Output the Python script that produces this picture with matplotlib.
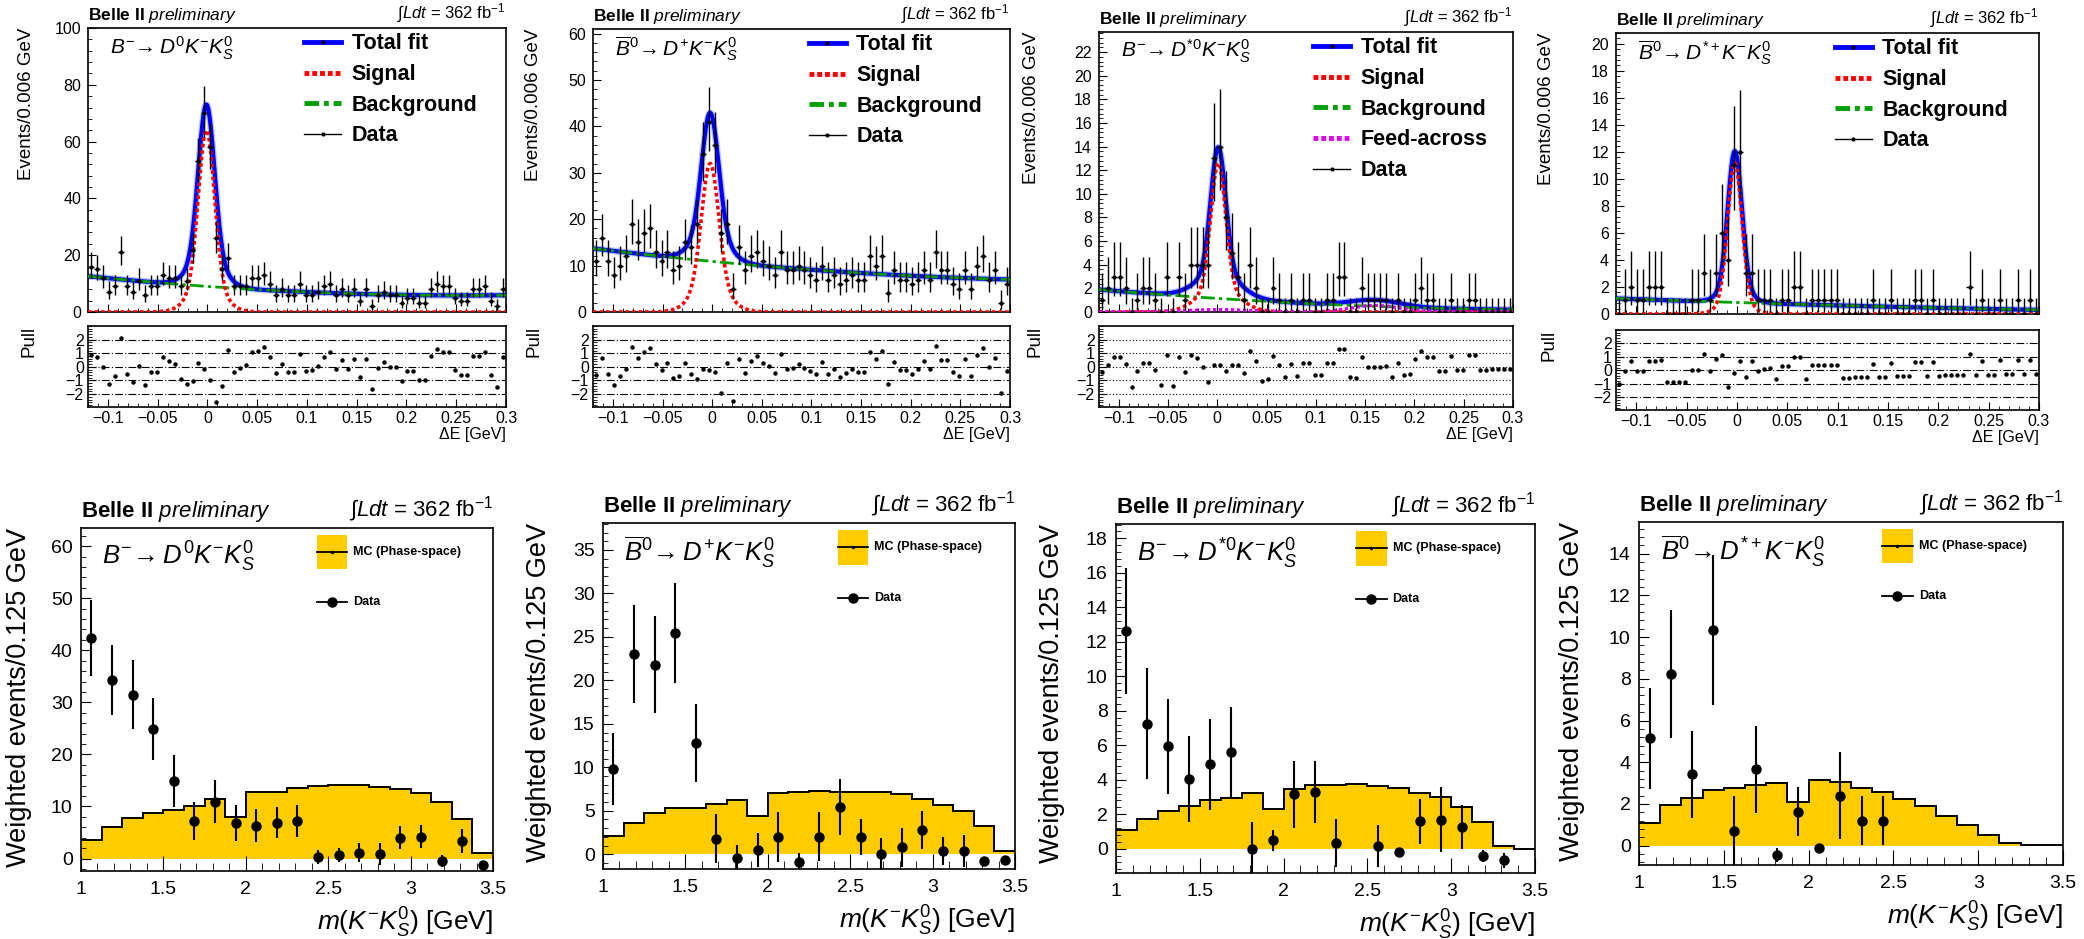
import numpy as np
import matplotlib.pyplot as plt
from matplotlib.lines import Line2D
from matplotlib.patches import Rectangle
from matplotlib.ticker import MultipleLocator, FixedLocator, FuncFormatter

plt.rcParams['font.family'] = ['Liberation Sans', 'DejaVu Sans']
plt.rcParams['mathtext.fontset'] = 'custom'
plt.rcParams['mathtext.rm'] = 'Liberation Sans'
plt.rcParams['mathtext.it'] = 'Liberation Sans:italic'
plt.rcParams['mathtext.bf'] = 'Liberation Sans:bold'
plt.rcParams['axes.linewidth'] = 1.2

# ---------------- top row: Delta E fits ----------------
de_lo, de_hi, de_binw = -0.12, 0.3, 0.006

counts_d0 = [16, 15, 12, 7, 9, 21, 9, 7, 11, 6,
             9, 9, 13, 12, 12, 9, 11, 22, 53, 70,
             58, 26, 15, 19, 9, 9, 9, 12, 12, 13,
             10, 6, 8, 6, 6, 10, 6, 6, 7, 9,
             10, 6, 8, 6, 8, 4, 8, 2, 6, 7,
             6, 6, 3, 5, 5, 3, 3, 8, 10, 9,
             9, 5, 4, 4, 8, 8, 9, 4, 2, 8]
counts_dp = [11, 16, 11, 8, 10, 12, 19, 15, 17, 18,
             13, 11, 13, 9, 10, 15, 14, 19, 34, 41,
             36, 17, 19, 5, 14, 9, 12, 13, 11, 10,
             8, 13, 9, 9, 10, 9, 8, 7, 10, 7,
             8, 6, 7, 8, 7, 7, 12, 10, 12, 4,
             9, 7, 7, 6, 7, 9, 7, 13, 9, 9,
             6, 5, 9, 5, 10, 12, 7, 9, 2, 6]
counts_dst0 = [1, 2, 3, 3, 2, 0, 1, 2, 2, 1,
               0, 3, 0, 3, 1, 4, 4, 4, 4, 13,
               14, 8, 5, 3, 1, 4, 2, 0, 0, 2,
               1, 0, 1, 0, 1, 1, 0, 0, 1, 1,
               3, 3, 0, 0, 2, 1, 1, 1, 1, 0,
               1, 0, 0, 1, 2, 1, 1, 0, 0, 1,
               0, 0, 1, 1, 0, 0, 0, 0, 0, 0]
counts_dstp = [0, 1, 2, 1, 1, 2, 2, 2, 0, 0,
               0, 0, 1, 1, 3, 1, 3, 6, 4, 11,
               12, 3, 3, 1, 1, 1, 0, 1, 1, 2,
               2, 0, 1, 1, 1, 1, 1, 0, 0, 0,
               0, 0, 1, 0, 0, 1, 0, 0, 0, 1,
               1, 0, 1, 0, 0, 0, 0, 0, 2, 0,
               1, 0, 0, 1, 0, 0, 1, 0, 1, 0]
de_counts = [counts_d0, counts_dp, counts_dst0, counts_dstp]

# fit components
sig_mean = [-0.001, -0.002, 0.001, -0.002]
sig_core_amp = [54, 26, 10.5, 10.2]
sig_core_width = [0.008, 0.0085, 0.0075, 0.007]
sig_tail_amp = [10, 6, 2.1, 1.0]
sig_tail_width = [0.016, 0.017, 0.02, 0.014]
bkg_at_left = [12.6, 13.7, 1.9, 1.15]
bkg_at_zero = [9.0, 10.9, 1.15, 0.85]
bkg_at_right = [5.9, 7.0, 0.2, 0.3]
feed_amp = [0, 0, 0.55, 0]
feed_mean = [0, 0, 0.16, 0]
feed_width = [1, 1, 0.025, 1]
feed_peak_amp = [0, 0, 0.2, 0]

de_ymax = [100, 61, 23.7, 20.8]
de_ymajor = [20, 10, 2, 2]
de_yminor = [4, 2, 0.4, 0.4]
pull_ticks = [-2, -1, 0, 1, 2]

decays = [r'$B^{-}\!\rightarrow D^{0}K^{-}K^{0}_{S}$',
          r'$\overline{B}^{0}\!\rightarrow D^{+}K^{-}K^{0}_{S}$',
          r'$B^{-}\!\rightarrow D^{*0}K^{-}K^{0}_{S}$',
          r'$\overline{B}^{0}\!\rightarrow D^{*+}K^{-}K^{0}_{S}$']

# ---------------- bottom row: m(K K_S) distributions ----------------
m_lo, m_hi, m_nbins = 1.0, 3.5, 20
nan = np.nan

mc_d0 = [3.5, 6.1, 7.7, 8.7, 9.4, 10.1, 11.4, 8.0, 12.8, 12.8,
         13.5, 14.0, 14.2, 14.2, 13.8, 13.3, 12.6, 10.9, 7.6, 1.0]
data_d0 = [42.4, 34.3, 31.5, 24.9, 14.9, 7.2, 10.9, 6.9, 6.3, 6.9,
           7.2, 0.2, 0.6, 1.1, 0.8, 4.0, 4.2, -0.45, 3.4, -1.2]
err_d0 = [7.35, 6.65, 6.55, 5.95, 5.0, 3.7, 4.1, 3.45, 3.2, 2.95,
          3.15, 1.35, 1.35, 1.85, 2.1, 2.25, 2.25, 1.1, 2.3, 0.3]

mc_dp = [2.1, 3.6, 4.7, 5.3, 5.3, 5.8, 6.2, 4.4, 7.0, 7.2,
         7.3, 7.1, 7.2, 7.2, 6.9, 6.3, 5.7, 5.0, 3.3, 0.4]
data_dp = [9.8, 23.0, 21.8, 25.4, 12.8, 1.8, -0.4, 0.5, 2.0, -0.9,
           2.0, 5.4, 2.0, 0.0, 0.8, 2.8, 0.4, 0.4, -0.8, -0.65]
err_dp = [4.1, 5.65, 5.6, 5.75, 4.45, 2.85, 1.5, 1.95, 2.9, 1.0,
          2.8, 3.2, 2.1, 1.9, 2.25, 2.2, 1.6, 1.85, 0.35, 0.2]

mc_dst0 = [1.1, 1.75, 2.2, 2.5, 2.85, 2.95, 3.25, 2.3, 3.45, 3.7,
           3.7, 3.77, 3.62, 3.52, 3.25, 3.0, 2.42, 1.55, 0.13, 0.0]
data_dst0 = [12.6, 7.26, 5.94, 4.06, 4.9, 5.6, 0.0, 0.48, 3.15, 3.29,
             0.33, nan, 0.15, -0.19, 1.59, 1.68, 1.26, -0.43, -0.68, nan]
err_dst0 = [3.65, 3.2, 2.75, 2.5, 2.65, 2.6, 1.55, 0.6, 1.95, 1.8,
            1.42, nan, 1.2, 0.2, 1.3, 1.9, 1.26, 0.35, 0.45, nan]

mc_dstp = [1.1, 1.95, 2.3, 2.67, 2.78, 2.9, 2.98, 2.08, 3.14, 3.03,
           2.78, 2.55, 2.23, 1.9, 1.42, 0.99, 0.51, 0.14, 0.03, 0.03]
data_dstp = [5.14, 8.22, 3.42, 10.36, 0.72, 3.66, -0.45, 1.63, -0.13, 2.39,
             1.2, 1.2, nan, nan, nan, nan, nan, nan, nan, nan]
err_dstp = [2.44, 3.07, 2.09, 3.6, 1.68, 2.09, 0.35, 1.16, 0.15, 2.08,
            1.19, 1.19, nan, nan, nan, nan, nan, nan, nan, nan]

mc_vals = [mc_d0, mc_dp, mc_dst0, mc_dstp]
m_data = [data_d0, data_dp, data_dst0, data_dstp]
m_err = [err_d0, err_dp, err_dst0, err_dstp]

m_ylim = [(-2.4, 63.5), (-1.7, 38.1), (-1.41, 18.83), (-0.93, 15.52)]
m_ymajor = [10, 5, 2, 2]
m_yminor = [2, 1, 0.4, 0.4]

# ---------------- layout (pixels in the 2084x939 canvas) ----------------
W, H = 2084, 939
top_main_px = [(88, 28, 506, 312), (593, 29, 1010, 312), (1099, 32, 1513, 312), (1616, 33, 2039, 314)]
top_pull_px = [(88, 326, 506, 407), (593, 326, 1010, 407), (1099, 326, 1513, 407), (1616, 330, 2039, 410)]
bot_px = [(81, 528, 493, 871), (603, 523, 1015, 869), (1116, 524, 1535, 873), (1639, 522, 2063, 865)]
top_ylab_x = [-0.127, -0.122, -0.143, -0.144]
pull_ylab_x = [-0.12, -0.12, -0.135, -0.138]
bot_ylab_x = [-0.119, -0.124, -0.122, -0.127]
bot_leg_x = [0.573, 0.570, 0.573, 0.573]

GOLD = '#ffcc00'


def box(l, t, r, b):
    return [l / W, 1 - b / H, (r - l) / W, (b - t) / H]


def num_fmt(v, pos):
    v = round(v, 6)
    if v == 0:
        return '0'
    return f'{v:g}'.replace('-', '\u2212')


def poisson_band(n):
    # approximate Garwood interval, one-sided 68% for empty bins
    n = np.asarray(n, float)
    lo = np.where(n > 0, n - np.sqrt(np.clip(n - 0.25, 0, None)), 0.0)
    hi = np.where(n > 0, n + np.sqrt(n + 0.75) + 1, 1.148)
    return lo, hi


def fit_parts(x, i):
    m = sig_mean[i]
    sig = (sig_core_amp[i] * np.exp(-0.5 * ((x - m) / sig_core_width[i]) ** 2)
           + sig_tail_amp[i] * np.exp(-0.5 * ((x - m) / sig_tail_width[i]) ** 2))
    coef = np.polyfit([de_lo, 0.0, de_hi], [bkg_at_left[i], bkg_at_zero[i], bkg_at_right[i]], 2)
    bkg = np.polyval(coef, x)
    feed = (feed_amp[i] * np.exp(-0.5 * ((x - feed_mean[i]) / feed_width[i]) ** 2)
            + feed_peak_amp[i] * np.exp(-0.5 * (x / 0.035) ** 2))
    return sig, bkg, feed


fig = plt.figure(figsize=(W / 100, H / 100), dpi=100)
fig.patch.set_facecolor('white')

de_centers = de_lo + de_binw * (np.arange(len(counts_d0)) + 0.5)
xfine = np.linspace(de_lo, de_hi, 800)

for i in range(4):
    ax = fig.add_axes(box(*top_main_px[i]))
    pax = fig.add_axes(box(*top_pull_px[i]))

    sig, bkg, feed = fit_parts(xfine, i)
    total = sig + bkg + feed
    ax.plot(xfine, total, color='#7d9bff', lw=4.8, alpha=0.55, zorder=2)
    ax.plot(xfine, total, color='#0000ff', lw=3, zorder=2)
    ax.plot(xfine, bkg, color='#00a000', lw=2, ls=(0, (5, 1.5, 1.2, 1.5)), zorder=3)
    ax.plot(xfine, sig, color='#ff0000', lw=2.6, ls=(0, (1, 0.8)), zorder=3)
    if feed_amp[i] > 0:
        ax.plot(xfine, feed, color='#dd00ee', lw=2.4, ls=(0, (1, 0.8)), zorder=3)

    n = np.array(de_counts[i], float)
    lo, hi = poisson_band(n)
    ax.errorbar(de_centers, n, yerr=[n - lo, hi - n], xerr=de_binw / 2, fmt='o', ms=2,
                color='k', lw=1, capsize=0, zorder=4)

    ax.set_xlim(de_lo, de_hi)
    ax.set_ylim(0, de_ymax[i])
    ax.xaxis.set_major_locator(MultipleLocator(0.05))
    ax.xaxis.set_minor_locator(MultipleLocator(0.01))
    ax.yaxis.set_major_locator(MultipleLocator(de_ymajor[i]))
    ax.yaxis.set_minor_locator(MultipleLocator(de_yminor[i]))
    ax.yaxis.set_major_formatter(FuncFormatter(num_fmt))
    ax.tick_params(which='both', direction='in', top=False, right=False, labelbottom=False)
    ax.tick_params(which='major', length=6, labelsize=11.5, pad=5)
    ax.tick_params(which='minor', length=3)
    ax.set_ylabel('Events/0.006 GeV', fontsize=13.5, loc='top')
    ax.yaxis.set_label_coords(top_ylab_x[i], 1.0)

    ax.text(0.053, 0.93, decays[i], transform=ax.transAxes, fontsize=15, va='center', ha='left')
    ax.text(0.0, 1.01, r'$\mathbf{Belle\ II}$ $\mathit{preliminary}$', transform=ax.transAxes,
            fontsize=12.5, ha='left', va='bottom')
    ax.text(1.0, 1.01, r'$\int Ldt$ = 362 fb$^{-1}$', transform=ax.transAxes,
            fontsize=12, ha='right', va='bottom')

    handles = [Line2D([], [], color='#0000ff', lw=3.5, marker='o', ms=2, mfc='k', mec='k'),
               Line2D([], [], color='#ff0000', lw=3.5, ls=(0, (1, 0.6))),
               Line2D([], [], color='#00a000', lw=3.5, ls=(0, (3, 1, 1, 1)))]
    labels = ['Total fit', 'Signal', 'Background']
    if feed_amp[i] > 0:
        handles.append(Line2D([], [], color='#dd00ee', lw=3.5, ls=(0, (1, 0.6))))
        labels.append('Feed-across')
    handles.append(Line2D([], [], color='k', lw=1, marker='o', ms=2))
    labels.append('Data')
    ax.legend(handles, labels, loc='upper left', bbox_to_anchor=(0.505, 1.0), frameon=False,
              prop={'weight': 'bold', 'size': 15.5}, handlelength=1.7, handletextpad=0.5,
              labelspacing=0.45, borderaxespad=0.15, borderpad=0.1)

    # pulls
    s_c, b_c, f_c = fit_parts(de_centers, i)
    f_total = s_c + b_c + f_c
    resid = n - f_total
    err = np.where(resid < 0, hi - n, n - lo)
    err = np.where(err > 0, err, 1.0)
    pull = resid / err
    for lvl in pull_ticks:
        pax.axhline(lvl, color='k', lw=0.8,
                    ls=(0, (1, 2)) if i == 2 else (0, (7, 2, 1, 2)), zorder=1)
    pax.plot(de_centers, pull, 'o', ms=2.2, color='k', zorder=3)
    pax.set_xlim(de_lo, de_hi)
    pax.set_ylim(-2.95, 3.0)
    pax.xaxis.set_major_locator(MultipleLocator(0.05))
    pax.xaxis.set_minor_locator(MultipleLocator(0.01))
    pax.yaxis.set_major_locator(FixedLocator(pull_ticks))
    pax.yaxis.set_minor_locator(MultipleLocator(0.2))
    pax.xaxis.set_major_formatter(FuncFormatter(num_fmt))
    pax.yaxis.set_major_formatter(FuncFormatter(num_fmt))
    pax.tick_params(which='both', direction='in', top=False, right=False)
    pax.tick_params(which='major', length=6, labelsize=11.5, pad=3)
    pax.tick_params(which='minor', length=3)
    pax.set_ylabel('Pull', fontsize=13.5, loc='top')
    pax.yaxis.set_label_coords(pull_ylab_x[i], 1.0)
    pax.set_xlabel('\u0394E [GeV]', fontsize=11.5, loc='right')
    pax.xaxis.set_label_coords(1.0, -0.25)

m_edges = np.linspace(m_lo, m_hi, m_nbins + 1)
m_centers = 0.5 * (m_edges[:-1] + m_edges[1:])

for i in range(4):
    ax = fig.add_axes(box(*bot_px[i]))
    ax.stairs(mc_vals[i], m_edges, fill=True, color=GOLD, lw=0, zorder=1)
    ax.stairs(mc_vals[i], m_edges, color='k', lw=1.4, baseline=None, zorder=2)
    ax.errorbar(m_centers, m_data[i], yerr=m_err[i], fmt='o', ms=6.5, color='k',
                lw=1.5, capsize=0, zorder=3)

    ax.set_xlim(m_lo, m_hi)
    ax.set_ylim(*m_ylim[i])
    ax.xaxis.set_major_locator(MultipleLocator(0.5))
    ax.xaxis.set_minor_locator(MultipleLocator(0.1))
    ax.yaxis.set_major_locator(MultipleLocator(m_ymajor[i]))
    ax.yaxis.set_minor_locator(MultipleLocator(m_yminor[i]))
    ax.xaxis.set_major_formatter(FuncFormatter(num_fmt))
    ax.yaxis.set_major_formatter(FuncFormatter(num_fmt))
    ax.tick_params(which='both', direction='in', top=False, right=False)
    ax.tick_params(axis='x', which='major', length=11, labelsize=14, pad=7)
    ax.tick_params(axis='x', which='minor', length=6)
    ax.tick_params(axis='y', which='major', length=7, labelsize=14, pad=6)
    ax.tick_params(axis='y', which='minor', length=3.5)
    ax.set_ylabel('Weighted events/0.125 GeV', fontsize=19.5, loc='top')
    ax.yaxis.set_label_coords(bot_ylab_x[i], 1.0)
    ax.set_xlabel(r'$m(K^{-}K^{0}_{S})$ [GeV]', fontsize=19, loc='right')
    ax.xaxis.set_label_coords(1.0, -0.1)

    ax.text(0.051, 0.915, decays[i], transform=ax.transAxes, fontsize=18.5, va='center', ha='left')
    ax.text(0.0, 1.012, r'$\mathbf{Belle\ II}$ $\mathit{preliminary}$', transform=ax.transAxes,
            fontsize=16, ha='left', va='bottom')
    ax.text(1.0, 1.012, r'$\int Ldt$ = 362 fb$^{-1}$', transform=ax.transAxes,
            fontsize=16, ha='right', va='bottom')

    # ROOT-style legend box
    lx = bot_leg_x[i]
    lw_ = 0.073
    ax.add_patch(Rectangle((lx, 0.88), lw_, 0.10, transform=ax.transAxes,
                           facecolor=GOLD, edgecolor='none', zorder=5))
    ax.plot([lx, lx + lw_], [0.93, 0.93], transform=ax.transAxes, color='k', lw=1.3, zorder=6)
    ax.plot([lx + lw_ / 2], [0.93], 'o', ms=1.5, color='k', transform=ax.transAxes, zorder=6)
    ax.text(lx + lw_ + 0.014, 0.93, 'MC (Phase-space)', transform=ax.transAxes,
            fontsize=9, fontweight='bold', va='center', ha='left')
    ax.plot([lx, lx + lw_], [0.784, 0.784], transform=ax.transAxes, color='k', lw=1.3, zorder=6)
    ax.plot([lx + lw_ / 2], [0.784], 'o', ms=6.5, color='k', transform=ax.transAxes, zorder=6)
    ax.text(lx + lw_ + 0.014, 0.784, 'Data', transform=ax.transAxes,
            fontsize=9, fontweight='bold', va='center', ha='left')

fig.savefig('out.png', dpi=100, facecolor='white')
